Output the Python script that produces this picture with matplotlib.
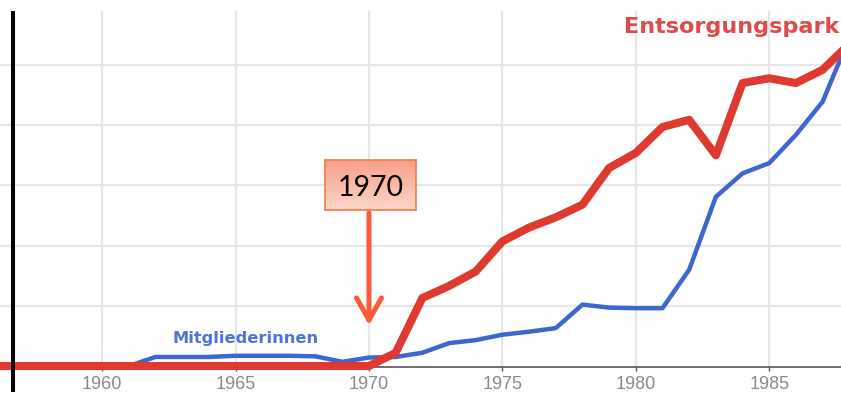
import matplotlib.pyplot as plt
import numpy as np
from matplotlib.lines import Line2D

# yearly frequencies
years = list(range(1956, 1989))
entsorgungspark = [0, 0, 0, 0, 0, 0, 0, 0, 0, 0, 0, 0, 0, 0, 0,
                   0.22, 1.13, 1.33, 1.57, 2.07, 2.30, 2.47, 2.68, 3.29,
                   3.54, 3.97, 4.09, 3.50, 4.70, 4.78, 4.70, 4.92, 5.35]
mitgliederinnen = [0, 0, 0, 0, 0, 0, 0.15, 0.15, 0.15, 0.17, 0.17, 0.17,
                   0.16, 0.07, 0.14, 0.15, 0.22, 0.38, 0.43, 0.52, 0.57,
                   0.63, 1.02, 0.97, 0.96, 0.96, 1.60, 2.81, 3.20, 3.37,
                   3.84, 4.39, 5.45]
xticks = [1960, 1965, 1970, 1975, 1980, 1985]
marked_year = 1970

W, H = 841, 394
fig = plt.figure(figsize=(W / 100, H / 100), dpi=100)

# plot area: bottom axis at y=367px, top at y=11px
ax = fig.add_axes([0, (H - 367) / H, 1, (367 - 11) / H])
px_per_unit = 60.2
y0 = -1 / px_per_unit
ax.set_ylim(y0, y0 + 356 / px_per_unit)
ax.set_xlim(1956.17, 1987.69)

for s in ['left', 'right', 'top']:
    ax.spines[s].set_visible(False)
ax.spines['bottom'].set_color('#555555')
ax.spines['bottom'].set_linewidth(1.2)

ax.set_xticks(xticks)
ax.set_xticklabels([str(t) for t in xticks])
ax.set_yticks([1, 2, 3, 4, 5])
ax.tick_params(axis='y', left=False, labelleft=False)
ax.tick_params(axis='x', length=3, width=1, color='#555555', pad=3.5,
               labelsize=13, labelcolor='#8a8a8a')
for lab in ax.get_xticklabels():
    lab.set_fontfamily('Liberation Sans')
ax.grid(True, color='#e6e6e6', linewidth=1.5)
ax.set_axisbelow(True)

ax.plot(years, mitgliederinnen, color='#3d67cf', lw=3.2,
        solid_joinstyle='round', clip_on=False, zorder=3)
ax.plot(years, entsorgungspark, color='#e03a30', lw=5.8,
        solid_joinstyle='round', clip_on=False, zorder=4)

# series labels
fig.text(624 / W, (H - 33) / H, 'Entsorgungspark', color='#e04a4a',
         fontsize=16.1, fontweight='bold', ha='left', va='baseline')
fig.text(246 / W, (H - 343) / H, 'Mitgliederinnen', color='#4f74d4',
         fontsize=11.7, fontweight='bold', ha='center', va='baseline')

# callout arrow down to 1970
ax.annotate('', xy=(marked_year, (366 - 328) / px_per_unit),
            xytext=(marked_year, (366 - 210) / px_per_unit),
            arrowprops=dict(arrowstyle='->,head_length=0.8,head_width=0.45',
                            color='#fa5a3c', lw=3.6, mutation_scale=20),
            zorder=6, annotation_clip=False)

# callout box with a vertical gradient
bx = fig.add_axes([325 / W, (H - 210) / H, 91 / W, 50 / H])
grad = np.linspace(0, 1, 100).reshape(-1, 1)
top = np.array([247, 160, 135]) / 255
bot = np.array([252, 214, 200]) / 255
img = top + (bot - top) * grad[:, :, None]
bx.imshow(img, aspect='auto', extent=[0, 1, 0, 1])
bx.set_xticks([])
bx.set_yticks([])
for s in bx.spines.values():
    s.set_color('#f07a4c')
    s.set_linewidth(1.2)
bx.text(0.5, 0.5, str(marked_year), fontsize=20.5, family='Lato',
        color='black', ha='center', va='center_baseline',
        transform=bx.transAxes)

# black rule at the left edge
fig.add_artist(Line2D([13 / W, 13 / W], [(H - 390) / H, (H - 13) / H],
                      color='black', lw=2.9))

fig.savefig('out.png', dpi=100)
